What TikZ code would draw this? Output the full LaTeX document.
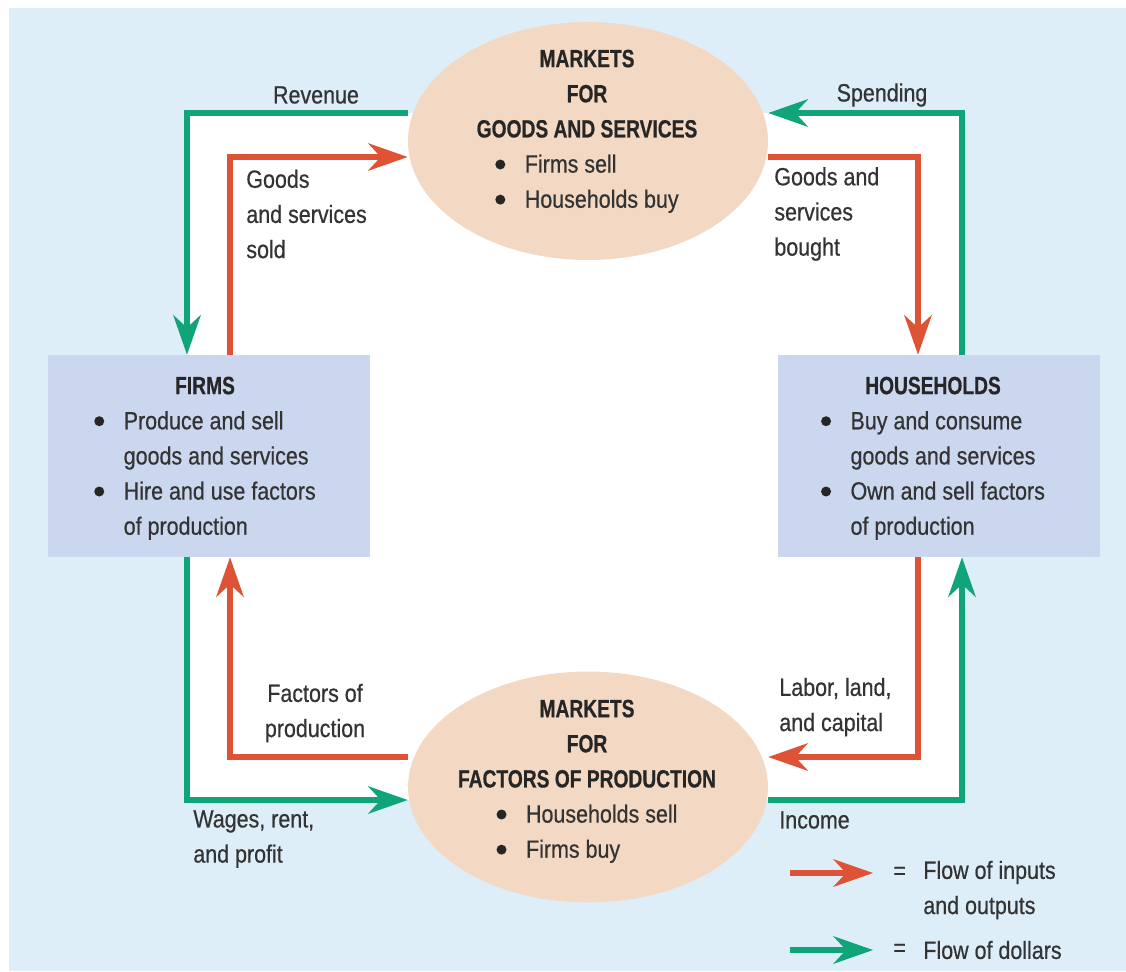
\documentclass[tikz,border=0pt]{standalone}
\usepackage{fontspec}
\setmainfont{Liberation Sans}[FakeStretch=0.86, FakeBold=0.5, BoldFeatures={FakeStretch=0.77, FakeBold=0.6}]
\usepackage{xcolor}
\usetikzlibrary{arrows.meta, shapes.geometric}

\definecolor{panelblue}{HTML}{DDEEF8}
\definecolor{boxblue}{HTML}{CAD7EE}
\definecolor{marketpeach}{HTML}{F3D8C3}
\definecolor{dollargreen}{HTML}{10A578}
\definecolor{goodsred}{HTML}{DE5335}
\definecolor{labelgray}{HTML}{333333}

% heading line and bullet list (bullet column + text column)
\newcommand{\hd}[1]{\textcolor{black!85}{\bfseries #1}}
\newcommand{\bul}{\tikz[baseline={(0,-4.6pt)}]\fill[black!85] (0,0) circle (0.1cm);}
\newcommand{\itemlist}[1]{\begin{tabular}[t]{@{}l@{\hspace{0.39cm}}l@{}}#1\end{tabular}}

\pgfdeclarelayer{panel}
\pgfdeclarelayer{flow}
\pgfsetlayers{panel,flow,main}

\begin{document}
\begin{tikzpicture}[x=0.02cm, y=-0.02cm,
  sector/.style={rectangle, fill=boxblue, minimum width=6.44cm, minimum height=4.04cm},
  market/.style={ellipse, fill=marketpeach, inner sep=0pt, minimum width=7.2cm},
  txt/.style={inner sep=0pt, text=labelgray, font=\fontsize{14.2}{20}\selectfont},
  goodsflow/.style={draw=goodsred, line width=0.12cm},
  dollarflow/.style={draw=dollargreen, line width=0.12cm}]
\useasboundingbox (0,0) rectangle (1126,971);

\begin{pgfonlayer}{panel}
  \fill[panelblue] (9,8) rectangle (1126,971);
  \fill[white] (187,113) rectangle (962,800);
\end{pgfonlayer}

% the four blocks
\node[sector] (firms) at (209,456) {};
\node[sector] (households) at (939,456) {};
\node[market, minimum height=4.76cm] (goodsmkt) at (588,141) {};
\node[market, minimum height=4.62cm] (factormkt) at (588,787) {};

\begin{scope}[every node/.style={txt}]
  \node[align=center] (firmstext) at (205,461) {\hd{FIRMS}\\
    \itemlist{\bul & Produce and sell\\ & goods and services\\ \bul & Hire and use factors\\ & of production}};
  \node[align=center] (hhtext) at (933,461) {\hd{HOUSEHOLDS}\\
    \itemlist{\bul & Buy and consume\\ & goods and services\\ \bul & Own and sell factors\\ & of production}};
  \node[align=center] (goodstext) at (587,134) {\hd{MARKETS}\\\hd{FOR}\\\hd{GOODS AND SERVICES}\\
    \itemlist{\bul & Firms sell\\ \bul & Households buy}};
  \node[align=center] (factortext) at (587,784) {\hd{MARKETS}\\\hd{FOR}\\\hd{FACTORS OF PRODUCTION}\\
    \itemlist{\bul & Households sell\\ \bul & Firms buy}};

  % flow labels
  \node (revenue) at (316,95) {Revenue};
  \node (spending) at (882,95) {Spending};
  \node[anchor=west, align=left] (soldlabel) at (246,214) {Goods\\and services\\sold};
  \node[anchor=west, align=left] (boughtlabel) at (774,214) {Goods and\\services\\bought};
  \node[align=center] (factorlabel) at (315,713) {Factors of\\production};
  \node[anchor=west, align=left] (laborlabel) at (779,707) {Labor, land,\\and capital};
  \node[anchor=west, align=left] (wageslabel) at (193,839) {Wages, rent,\\and profit};
  \node[anchor=west] (incomelabel) at (779,820) {Income};

  % key
  \node[anchor=west] (eqinputs) at (893,873) {=};
  \node[anchor=west] (eqdollars) at (893,950) {=};
  \node[anchor=west, align=left] (inputslabel) at (923,890) {Flow of inputs\\and outputs};
  \node[anchor=west] (dollarslabel) at (923,950) {Flow of dollars};
\end{scope}

\begin{pgfonlayer}{flow}
\begin{scope}[>={Stealth[length=0.8cm, width=0.56cm, inset=0.26cm, line width=0pt]}]
  % lanes: dollars outside, goods inside
  \coordinate (dollarNW) at (187,113);
  \coordinate (dollarNE) at (962,113);
  \coordinate (dollarSW) at (187,800);
  \coordinate (dollarSE) at (962,800);
  \coordinate (goodsNW) at (230,157);
  \coordinate (goodsNE) at (918,157);
  \coordinate (goodsSW) at (230,757);
  \coordinate (goodsSE) at (918,757);

  \draw[dollarflow, ->] (goodsmkt.west |- dollarNW) -- (dollarNW) -- (dollarNW |- firms.north);
  \draw[dollarflow, ->] (dollarSW |- firms.south) -- (dollarSW) -- (factormkt.west |- dollarSW);
  \draw[dollarflow, ->] (factormkt.east |- dollarSE) -- (dollarSE) -- (dollarSE |- households.south);
  \draw[dollarflow, ->] (dollarNE |- households.north) -- (dollarNE) -- (goodsmkt.east |- dollarNE);

  \draw[goodsflow, ->] (goodsNW |- firms.north) -- (goodsNW) -- (goodsmkt.west |- goodsNW);
  \draw[goodsflow, ->] (goodsmkt.east |- goodsNE) -- (goodsNE) -- (goodsNE |- households.north);
  \draw[goodsflow, ->] (goodsSE |- households.south) -- (goodsSE) -- (factormkt.east |- goodsSE);
  \draw[goodsflow, ->] (factormkt.west |- goodsSW) -- (goodsSW) -- (goodsSW |- firms.south);

  \coordinate (keyinputs) at (790,873);
  \coordinate (keydollars) at (790,950);
  \draw[goodsflow, ->, shorten >=0.4cm] (keyinputs) -- (eqinputs.west);
  \draw[dollarflow, ->, shorten >=0.4cm] (keydollars) -- (eqdollars.west);
\end{scope}
\end{pgfonlayer}

\end{tikzpicture}
\end{document}
